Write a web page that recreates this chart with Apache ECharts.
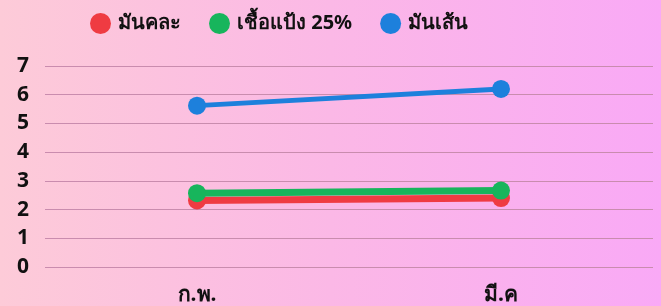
<!DOCTYPE html>
<html>
<head>
<meta charset="utf-8">
<script src="https://cdn.jsdelivr.net/npm/echarts@6/dist/echarts.min.js"></script>
<style>
  html, body { margin: 0; padding: 0; }
  #chart {
    width: 661px; height: 306px;
    background: linear-gradient(90deg, #fdcbd8 0%, #fbb8e6 50%, #f9a9f6 100%);
  }
</style>
</head>
<body>
<div id="chart"></div>
<script>
const months = ['ก.พ.', 'มี.ค'];
const mixed = [2.32, 2.4];      // มันคละ
const starch = [2.57, 2.66];    // เชื้อแป้ง 25%
const strip = [5.62, 6.2];      // มันเส้น
const yTicks = [0, 1, 2, 3, 4, 5, 6, 7];

const chart = echarts.init(document.getElementById('chart'));
const font = '"Noto Sans", "DejaVu Sans", sans-serif';

const mk = (name, data, color, width) => ({
  name: name,
  type: 'line',
  data: data,
  symbol: 'circle',
  symbolSize: 18,
  itemStyle: { color: color },
  lineStyle: { color: color, width: width },
  z: 3
});

chart.setOption({
  animation: false,
  textStyle: { fontFamily: font },
  legend: {
    top: 8,
    left: 85,
    icon: 'circle',
    itemWidth: 21,
    itemHeight: 21,
    itemGap: 28,
    textStyle: { fontSize: 20, fontWeight: 'bold', color: '#111', padding: [3, 0, 0, 2] },
    data: ['มันคละ', 'เชื้อแป้ง 25%', 'มันเส้น']
  },
  grid: { left: 45, right: 8, top: 66, bottom: 39 },
  xAxis: {
    type: 'category',
    data: months,
    boundaryGap: true,
    axisLine: { show: false },
    axisTick: { show: false },
    axisLabel: { fontSize: 21, fontWeight: 'bold', color: '#111', margin: 18 }
  },
  yAxis: {
    type: 'value',
    min: 0,
    max: yTicks[yTicks.length - 1],
    interval: 1,
    axisLabel: {
      fontSize: 21, fontWeight: 'bold', color: '#111', margin: 16,
      formatter: v => yTicks.includes(v) ? String(v) : ''
    },
    splitLine: { lineStyle: { color: '#c98cae', width: 1.2 } }
  },
  series: [
    mk('มันคละ', mixed, '#ef3b42', 7),
    mk('เชื้อแป้ง 25%', starch, '#17b55c', 7),
    mk('มันเส้น', strip, '#1d80dc', 5)
  ]
});
</script>
</body>
</html>
